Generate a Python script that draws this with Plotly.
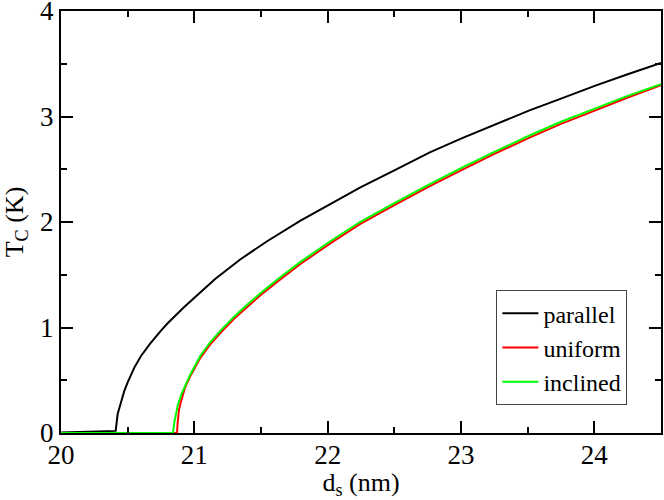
import plotly.graph_objects as go

# parallel
d_par = [20.0, 20.41, 20.425, 20.45, 20.475, 20.50, 20.55, 20.60, 20.67, 20.75, 20.80, 20.92, 21.0,
         21.156, 21.344, 21.543, 21.793, 22.017, 22.242, 22.5, 22.766, 23.0, 23.25, 23.514,
         23.75, 24.013, 24.25, 24.5]
t_par = [0.005, 0.02, 0.18, 0.30, 0.40, 0.48, 0.62, 0.73, 0.85, 0.97, 1.04, 1.19, 1.28,
         1.46, 1.645, 1.815, 2.01, 2.17, 2.325, 2.49, 2.66, 2.79, 2.92, 3.058,
         3.17, 3.295, 3.40, 3.507]

# uniform
d_uni = [20.0, 20.87, 20.875, 20.885, 20.90, 20.93, 20.97, 21.044, 21.119, 21.2, 21.3, 21.4,
         21.5, 21.618, 21.793, 22.017, 22.242, 22.5, 22.766, 23.0, 23.25, 23.514, 23.75,
         24.013, 24.25, 24.5]
t_uni = [0.0, 0.0, 0.10, 0.22, 0.30, 0.43, 0.54, 0.71, 0.84, 0.955, 1.085, 1.20,
         1.31, 1.43, 1.60, 1.795, 1.98, 2.16, 2.34, 2.49, 2.645, 2.80, 2.93,
         3.06, 3.18, 3.298]

# inclined
d_inc = [20.0, 20.84, 20.85, 20.86, 20.875, 20.9, 20.945, 20.97, 21.044, 21.119, 21.2, 21.3,
         21.4, 21.5, 21.618, 21.793, 22.017, 22.242, 22.5, 22.766, 23.0, 23.25, 23.514,
         23.75, 24.013, 24.25, 24.5]
t_inc = [0.0, 0.0, 0.10, 0.18, 0.26, 0.36, 0.49, 0.555, 0.73, 0.86, 0.975, 1.105,
         1.22, 1.33, 1.45, 1.62, 1.815, 2.00, 2.18, 2.36, 2.51, 2.665, 2.82,
         2.95, 3.08, 3.195, 3.307]

x_ticks = [20, 21, 22, 23, 24]
y_ticks = [0, 1, 2, 3, 4]

font_family = "Liberation Serif"

fig = go.Figure()
fig.add_trace(go.Scatter(x=d_par, y=t_par, mode="lines", name="parallel",
                         line=dict(color="black", width=2)))
fig.add_trace(go.Scatter(x=d_uni, y=t_uni, mode="lines", name="uniform",
                         line=dict(color="#ff0000", width=2)))
fig.add_trace(go.Scatter(x=d_inc, y=t_inc, mode="lines", name="inclined",
                         line=dict(color="#00ff00", width=2)))

axis_common = dict(
    showgrid=False, zeroline=False, showline=True, linecolor="black", linewidth=2,
    mirror="allticks", ticks="inside", ticklen=12, tickwidth=1.5, tickcolor="black",
    tickfont=dict(family=font_family, size=27, color="black"),
    automargin=False, ticklabeloverflow="allow",
)

fig.update_xaxes(
    range=[20, 24.5], tickvals=x_ticks, ticktext=[str(v) for v in x_ticks],
    minor=dict(ticks="inside", ticklen=6, dtick=0.5, tick0=20, tickcolor="black", tickwidth=1.5),
    title=dict(text="d<sub>s</sub> (nm)", font=dict(family=font_family, size=26, color="black")),
    ticklabelstandoff=-3,
    **axis_common,
)
fig.update_yaxes(
    range=[0, 4], tickvals=y_ticks, ticktext=[str(v) for v in y_ticks],
    minor=dict(ticks="inside", ticklen=6, dtick=0.5, tick0=0, tickcolor="black", tickwidth=1.5),
    title=dict(text="T<sub>C</sub> (K)", font=dict(family=font_family, size=26, color="black")),
    **axis_common,
)

fig.update_layout(
    width=664, height=500,
    margin=dict(l=61, r=3, t=11, b=67),
    plot_bgcolor="white", paper_bgcolor="white",
    font=dict(family=font_family, size=26, color="black"),
    legend=dict(x=0.944, y=0.066, xanchor="right", yanchor="bottom",
                bordercolor="#444444", borderwidth=1, bgcolor="white",
                font=dict(family=font_family, size=24, color="black"),
                tracegroupgap=0, itemwidth=36),
)

fig.write_html("out.html", config={"displayModeBar": False},
               post_script="document.body.style.margin='0';document.body.style.overflow='hidden';")
